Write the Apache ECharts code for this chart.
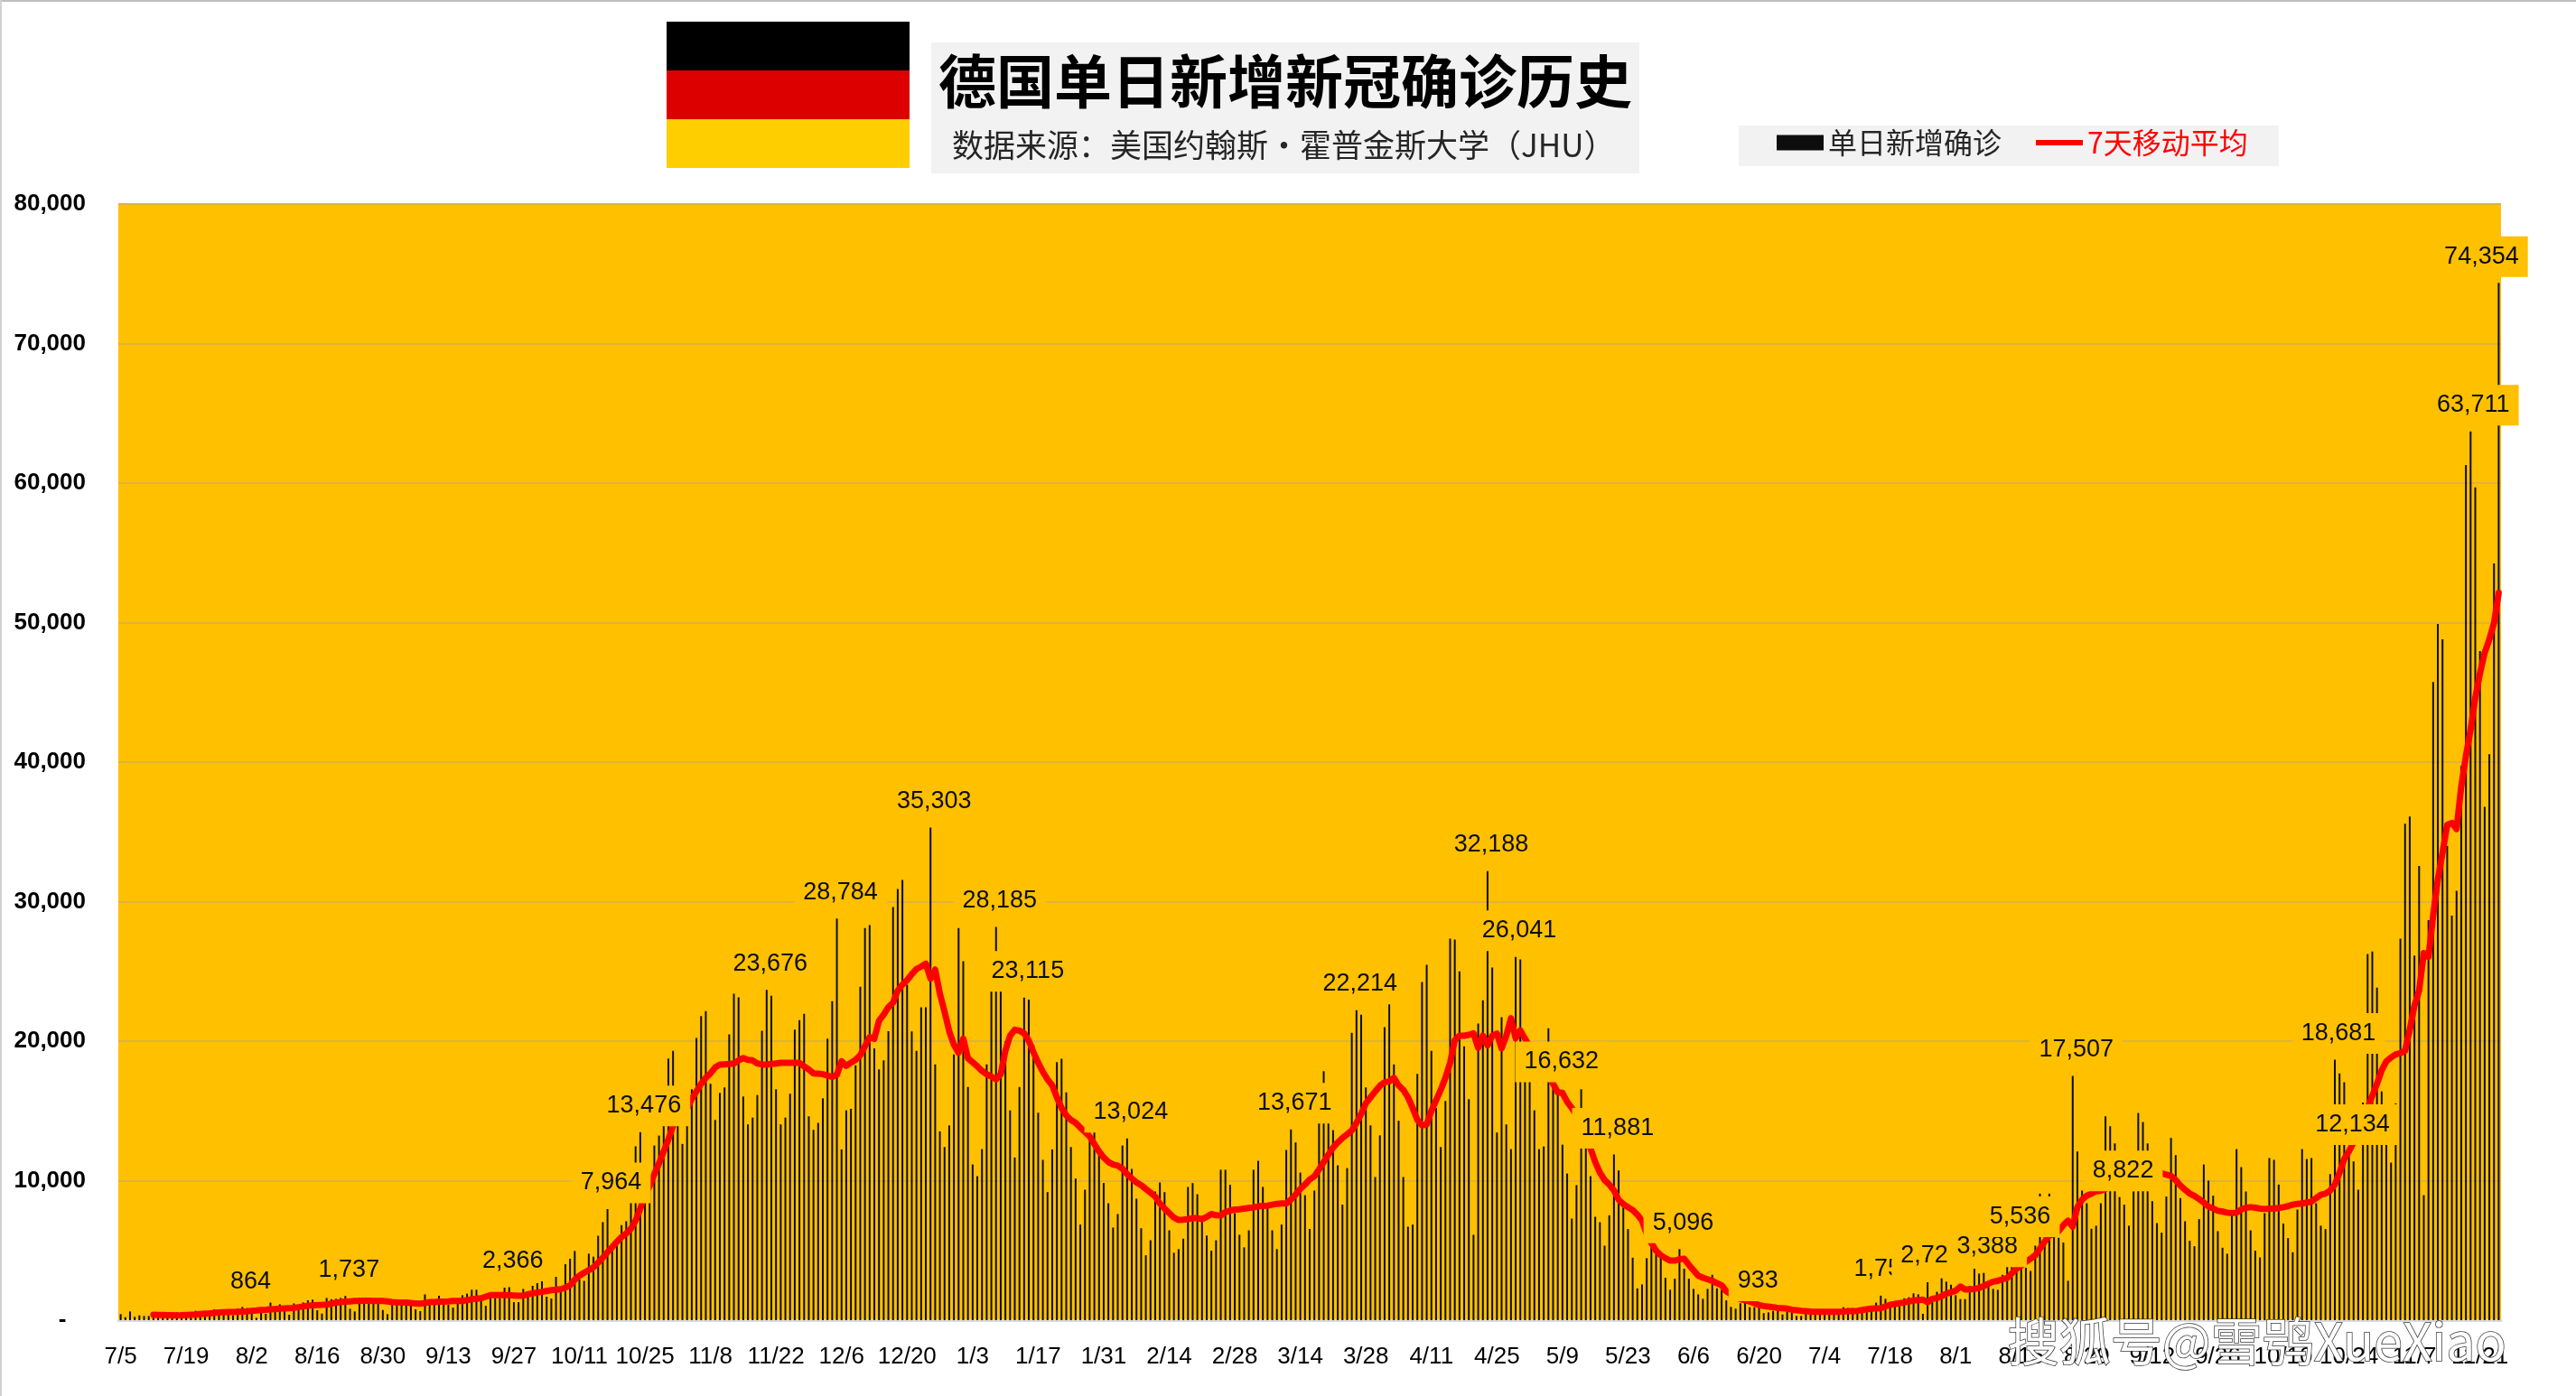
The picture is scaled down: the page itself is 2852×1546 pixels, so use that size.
<!DOCTYPE html>
<html><head><meta charset="utf-8">
<style>html,body{margin:0;padding:0;background:#fff}#c{width:2852px;height:1546px}</style>
<script src="https://cdn.jsdelivr.net/npm/echarts@6/dist/echarts.min.js"></script>
</head><body><div id="c"></div>
<script>
const titleText = '德国单日新增新冠确诊历史';
const subtitleText = '数据来源：美国约翰斯·霍普金斯大学（JHU）';
const watermarkText = '搜狐号@雪鸮XueXiao';
const seriesNames = ['单日新增确诊', '7天移动平均'];
// month, first day, last day for every run of daily categories
const monthRuns = [[7,5,31],[8,1,31],[9,1,30],[10,1,31],[11,1,30],[12,1,31],[1,1,31],[2,1,28],[3,1,31],[4,1,30],[5,1,31],[6,1,30],[7,1,31],[8,1,31],[9,1,30],[10,1,31],[11,1,25]];
const categories = [];
monthRuns.forEach(([m,a,b]) => { for (let d = a; d <= b; d++) categories.push(m + '/' + d); });

const dailyCases = [
430,215,625,237,345,300,300,350,400,390,
300,400,560,560,500,400,670,500,580,600,
780,560,600,700,345,840,950,864,770,170,
880,450,1270,600,1140,670,390,1200,730,1270,
1420,1470,710,470,1590,1500,1530,1590,1737,820,
625,1590,1470,1470,1470,1470,730,430,1100,1380,
1380,1380,1420,780,650,1850,1420,1420,1750,1380,
1100,900,1570,1790,1900,2180,2180,1470,1030,1640,
1590,1590,2330,2366,1290,1290,2240,1680,2460,2650,
2820,1680,1550,3100,2070,4010,4400,4960,2930,2820,
4760,4550,6050,7030,7964,5090,5520,6810,7090,10470,
12460,13476,8470,9400,12520,13230,15200,18750,19310,15200,
12630,13960,16550,20230,21790,22150,16940,14350,16290,16680,
20490,23400,23140,16030,14030,14520,16140,20750,23676,23250,
16550,14030,14520,16230,20820,21510,21960,14610,13640,14140,
15900,20170,22860,28784,12240,15040,15150,18270,23900,28100,
28320,19480,17970,18620,20710,29610,30900,31550,24050,20690,
19310,22430,22430,35303,18340,13530,12410,13960,19050,28100,
25730,16720,11160,10320,12260,18340,26000,28185,25770,19960,
15040,11660,16720,23115,22970,19740,14870,11490,9180,12240,
18490,18730,16330,12410,10150,6850,9350,15500,15200,12200,
9830,8380,6640,7610,12520,13024,10840,8710,6590,4650,
5730,9220,9870,9180,6440,4830,5090,5840,9550,9830,
9030,7130,6060,4980,5730,10780,10780,9700,7670,6120,
5220,6440,10780,11420,9550,8100,6440,5090,6850,12200,
13671,12740,10580,8960,6530,9290,15860,17840,14780,13620,
11100,8280,10900,20600,22214,21900,16680,13960,10260,13250,
21010,22670,18340,14290,10260,6700,6850,17650,24240,25470,
19310,15210,12410,15710,27350,27280,25000,19630,15840,6120,
21270,22930,32188,25280,13450,21720,14030,12260,26041,25860,
18450,17100,15040,12260,12450,20920,17500,16632,12580,10510,
7280,9680,16550,13000,10320,7410,7020,5340,7520,11881,
10730,8060,6530,4480,2280,2560,4440,5950,4980,4550,
3040,2180,2970,5096,3690,2970,2240,1850,1530,2240,
3250,2280,2180,1420,950,820,1210,1380,933,933,
930,500,560,670,1100,410,600,560,300,300,
500,820,560,450,390,390,390,390,930,860,
860,500,560,880,990,1250,1755,1530,1210,990,
990,1570,1640,1920,1850,450,2722,1530,2030,3000,
2760,2540,1790,1510,1510,2460,3685,3340,3388,2390,
2240,2180,3250,4870,4870,5536,4250,3750,3530,5340,
9070,8000,9070,6010,5900,5560,2820,17507,12090,9290,
8380,6550,6770,8380,14610,13900,12670,8822,8280,6770,
9240,14850,14200,12670,8530,6960,6270,8860,13060,11830,
8750,7090,5690,5300,7240,11160,10000,8920,6380,5190,
4760,7460,12260,10970,9220,6440,4980,4500,7670,11620,
11490,9720,6920,5880,4870,7930,12260,11550,11620,8380,
6770,6530,10470,18681,17690,17050,12134,11380,9350,15600,
26250,26420,23830,16400,13500,11290,15540,27350,35580,36100,
26140,32560,8960,28680,45750,49900,48800,34000,29000,30770,
39730,61300,63711,59690,47960,36800,40570,54240,74354
];

const movingAverage = [
null,null,null,null,null,null,null,390,380,370,
360,350,345,350,370,390,410,440,470,490,
520,550,570,590,590,600,610,625,670,690,
730,740,770,800,820,840,860,880,930,980,
1030,1060,1090,1100,1120,1180,1250,1290,1320,1350,
1370,1380,1390,1390,1380,1380,1370,1340,1300,1280,
1270,1260,1230,1190,1185,1230,1290,1300,1320,1330,
1340,1370,1380,1370,1440,1500,1540,1570,1680,1790,
1800,1790,1800,1790,1770,1750,1750,1860,1920,1980,
2030,2090,2150,2180,2220,2330,2500,2900,3190,3400,
3580,3790,4120,4480,4870,5240,5620,5950,6210,6550,
7130,8000,8960,9610,10470,11230,12090,12950,13920,14570,
14930,15170,15860,16400,16940,17370,17690,18120,18320,18340,
18360,18400,18620,18790,18660,18620,18400,18320,18320,18360,
18400,18450,18450,18450,18450,18450,18190,17970,17690,17670,
17630,17540,17430,17590,18550,18230,18450,18660,18990,19630,
20280,20170,21460,21900,22430,22760,23620,24050,24370,24800,
25170,25340,25560,24480,25130,23400,22110,20710,19740,19160,
20170,18770,18490,18190,17870,17630,17460,17260,17630,19310,
20390,20820,20750,20560,20020,19200,18450,17800,17260,16830,
15970,15210,14680,14350,14140,13810,13490,13170,12630,12090,
11660,11340,11160,11080,10860,10470,10150,9870,9680,9400,
9140,8860,8360,8000,7670,7350,7180,7200,7240,7310,
7310,7240,7410,7610,7520,7500,7740,7840,7930,7950,
8000,8040,8080,8150,8190,8210,8280,8340,8360,8360,
8640,9010,9400,9720,10090,10300,10800,11340,11870,12370,
12740,13060,13320,13600,14140,14780,15540,15970,16400,16790,
17050,17110,17370,16830,16510,15970,15210,14350,13960,14030,
15000,15750,16510,17370,18450,20060,20390,20390,20450,20560,
19520,20390,19700,20390,20540,19480,20390,21640,20210,20770,
20170,19630,19090,18550,18020,17480,16940,16330,16290,15650,
15210,14680,14030,13170,12310,11340,10580,10040,9720,9290,
8640,8320,8100,7890,7560,7130,6160,5520,4980,4650,
4440,4270,4270,4370,4400,3970,3580,3190,3040,2930,
2820,2650,2500,2070,1850,1640,1530,1420,1340,1210,
1080,1010,970,930,880,860,820,750,710,670,
650,620,600,600,600,600,600,600,620,650,
650,670,730,780,820,840,860,990,1100,1160,
1210,1270,1340,1420,1420,1470,1290,1530,1590,1720,
1900,2000,2110,2410,2200,2200,2240,2310,2440,2610,
2760,2820,2930,3020,3360,3690,3900,4180,4400,4650,
5130,5620,6060,6160,6380,6810,7130,6700,8100,8640,
8920,9070,9240,9270,9400,9610,9720,9780,9830,9870,
9930,10040,10150,10260,10370,10470,10520,10430,10340,10040,
9650,9350,9070,8900,8680,8430,8150,8000,7840,7780,
7710,7670,7710,7930,8060,8100,8060,8000,7970,8000,
8000,8040,8100,8170,8280,8340,8360,8430,8490,8750,
8990,9070,9290,9720,10580,11550,12090,12740,13490,14350,
15210,16080,16940,17900,18550,18830,19050,19140,19310,20820,
22540,23620,26310,26030,29000,31590,33500,35500,35640,35200,
38240,40440,42320,44620,46350,47830,48800,49970,52140
];

// which daily bars carry a value label
const labelledIndexes = [27,48,83,104,111,138,153,173,187,193,215,250,264,292,298,307,319,333,349,376,386,398,405,417,427,473,476,502,508];
const labelShift = {508:-19, 502:3};

const sans = "'Liberation Sans',Arial,sans-serif";
const cjk = "'Noto Sans CJK SC',sans-serif";

const chart = echarts.init(document.getElementById('c'), null, {renderer:'canvas', width:2852, height:1546});
chart.setOption({
  animation:false,
  backgroundColor:'#fff',
  title:[
    {text:titleText,left:1039,top:58,padding:0,textStyle:{fontFamily:cjk,fontSize:64,fontWeight:'bold',color:'#000'},z:6},
    {text:subtitleText,left:1054,top:143,padding:0,textStyle:{fontFamily:cjk,fontSize:35,fontWeight:'normal',color:'#262626'},z:6}
  ],
  legend:{
    left:1967,top:142,padding:0,itemWidth:52,itemHeight:17,itemGap:38,
    selectedMode:false,
    textStyle:{fontFamily:cjk,fontSize:32,color:'#262626'},
    data:[
      {name:seriesNames[0],icon:'rect',textStyle:{color:'#262626'}},
      {name:seriesNames[1],icon:'path://M0 0H52V6H0Z',textStyle:{color:'#FF0000'}}
    ],
    symbolKeepAspect:true
  },
  grid:{left:131,right:83,top:226,bottom:84,show:true,backgroundColor:'#FFC000',borderWidth:0},
  xAxis:{
    type:'category',data:categories,boundaryGap:true,
    axisTick:{show:false},
    axisLine:{lineStyle:{color:'#D9D9D9',width:3}},
    axisLabel:{interval:13,margin:28,color:'#000',fontFamily:sans,fontSize:26,hideOverlap:false}
  },
  yAxis:{
    type:'value',min:0,max:80000,interval:10000,
    axisLine:{show:false},axisTick:{show:false},
    axisLabel:{margin:36,color:'#000',fontFamily:sans,fontSize:26,fontWeight:'bold',
      formatter:v=>v===0?'-   ':v.toLocaleString('en-US')},
    splitLine:{lineStyle:{color:'#E0B23A',width:2}}
  },
  graphic:[
    {type:'rect',z:-10,shape:{x:0,y:0,width:2852,height:2},style:{fill:'#BFBFBF'}},
    {type:'rect',z:-10,shape:{x:0,y:0,width:2,height:1546},style:{fill:'#D0D0D0'}},
    {type:'rect',z:-10,shape:{x:738,y:24,width:269,height:54},style:{fill:'#000000'}},
    {type:'rect',z:-10,shape:{x:738,y:78,width:269,height:54},style:{fill:'#DD0000'}},
    {type:'rect',z:-10,shape:{x:738,y:132,width:269,height:54},style:{fill:'#FFCE00'}},
    {type:'rect',z:-10,shape:{x:1031,y:47,width:784,height:145},style:{fill:'#F2F2F2'}},
    {type:'rect',z:-10,shape:{x:1925,y:139,width:598,height:45},style:{fill:'#F2F2F2'}},
    {type:'text',z:100,left:2222,top:1456,style:{text:watermarkText,fontFamily:cjk,fontSize:57,fill:'#FFFFFF',
      stroke:'#3A3A3A',lineWidth:1.5}}
  ],
  series:[
    {name:seriesNames[0],type:'bar',data:dailyCases,barWidth:2,itemStyle:{color:'#0D0D0D'},z:2,silent:true},
    {name:seriesNames[1],type:'line',data:movingAverage,showSymbol:false,symbol:'none',connectNulls:false,smooth:false,
      lineStyle:{color:'#FF0000',width:7,cap:'round',join:'round'},itemStyle:{color:'#FF0000'},z:3,silent:true},
    {name:'labels',type:'scatter',z:10,symbolSize:1,silent:true,itemStyle:{color:'rgba(0,0,0,0)',opacity:1},
      data:labelledIndexes.map(i=>({
        value:[i,dailyCases[i]],
        label:{show:true,position:'top',distance:6,opacity:1,offset:[labelShift[i]===undefined?4:labelShift[i],0],
          formatter:()=>dailyCases[i].toLocaleString('en-US'),
          fontFamily:sans,fontSize:27,lineHeight:25,color:'#0D0D0D',backgroundColor:'#FFC000',padding:[10,10]}
      }))
    }
  ]
});
if (dailyCases.length !== 509 || movingAverage.length !== 509 || categories.length !== 509) console.error('COUNT MISMATCH');
</script></body></html>
